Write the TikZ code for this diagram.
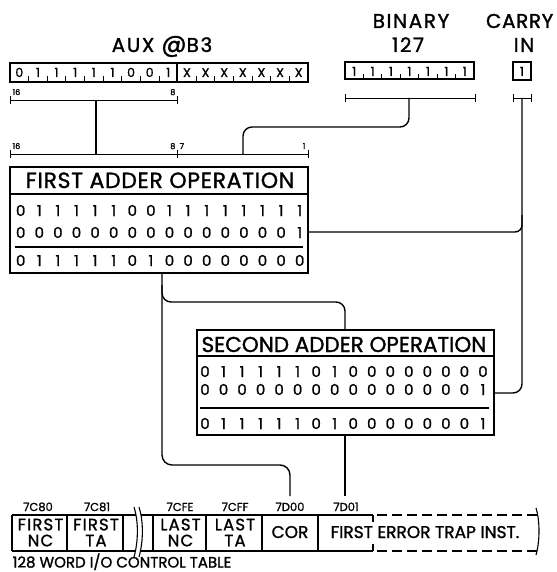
\documentclass[tikz,border=0pt]{standalone}
\usepackage{fontspec}
\setmainfont{Poppins}
\newfontfamily\lf{Poppins}[FakeBold=1.3]
\newcommand{\fs}[1]{\fontsize{#1}{#1}\selectfont\lf}
\begin{document}
\begin{tikzpicture}[x=1pt,y=-1pt,line width=1.3pt,
  boxs/.style={draw, inner sep=0pt, outer sep=0pt, anchor=north west},
  big/.style={inner sep=0pt, anchor=base, font=\fs{20}\addfontfeature{LetterSpace=8}},
  ttl/.style={inner sep=0pt, anchor=base},
  dig/.style={inner sep=0pt, anchor=base, font=\fs{15}},
  rdig/.style={inner sep=0pt, anchor=base, font=\fs{12.5}},
  num/.style={inner sep=0pt, anchor=base, font=\fs{8}},
  addr/.style={inner sep=0pt, anchor=base, font=\fs{11.5}},
  cell/.style={inner sep=0pt, align=center, font=\fontsize{16.5}{16}\selectfont\lf\addfontfeature{LetterSpace=7}},
  tick/.style={line width=0.9pt},
  conn/.style={line width=1.4pt, rounded corners=9pt}]
\useasboundingbox (0,0) rectangle (556,572);

% ---------- headings ----------
\node[big] (auxl) at (162,52) {AUX {\fontsize{25}{25}\selectfont @}B3};
\node[big] (binl1) at (411,28) {BINARY};
\node[big] (binl2) at (408,52) {127};
\node[inner sep=0pt, anchor=base east, font=\fs{20}\addfontfeature{LetterSpace=3}] (cinl1) at (554,28) {CARRY};
\node[big] (cinl2) at (524,52) {IN};

% ---------- registers ----------
\node[boxs, minimum width=298pt, minimum height=19pt] (aux) at (10,63) {};
\draw (177,63) -- (177,82);
\foreach \d [count=\i from 0] in {0,1,1,1,1,1,0,0,1,X,X,X,X,X,X,X}{
  \node[rdig] (a\i) at ({10+(\i+0.5)*18.625},77) {\d};
}
\foreach \i in {1,...,8,10,11,...,15}{
  \draw[tick] ({10+\i*18.625},82) -- ({10+\i*18.625},76.5);
}
\node[boxs, minimum width=129pt, minimum height=17pt] (bin) at (345,62) {};
\foreach \i in {0,...,6}{
  \node[rdig] (b\i) at ({345+(\i+0.5)*18.43},76) {1};
}
\foreach \i in {1,...,6}{
  \draw[tick] ({345+\i*18.43},79) -- ({345+\i*18.43},74);
}
\node[boxs, minimum width=18pt, minimum height=18pt] (cin) at (513,62) {};
\node[rdig] (c0) at (522,76) {1};

% ---------- brackets ----------
\draw[tick] (10,100) -- (177,100);
\draw[tick] (10,96) -- (10,104) (177,96) -- (177,104);
\node[num, anchor=base west] (n16a) at (12,95) {16};
\node[num, anchor=base east] (n8a) at (176,95) {8};
\draw[tick] (345,98) -- (475,98) (345,94) -- (345,102) (475,94) -- (475,102);
\draw[tick] (513,98) -- (531,98) (513,94) -- (513,102) (531,94) -- (531,102);
\draw[tick] (10,154) -- (308,154);
\draw[tick] (10,150) -- (10,158) (177,150) -- (177,158) (308,150) -- (308,158);
\node[num, anchor=base west] (n16b) at (12,149) {16};
\node[num, anchor=base east] (n8b) at (176,149) {8};
\node[num, anchor=base west] (n7b) at (179,149) {7};
\node[num, anchor=base east] (n1b) at (306,149) {1};

\coordinate (auxbr) at (96,100);
\coordinate (fabr1) at (96,154);
\coordinate (binbr) at (409,98);
\coordinate (fabr2) at (243,154);
\coordinate (cinbr) at (522,98);

% ---------- first adder ----------
\node[boxs, minimum width=298pt, minimum height=106pt] (fa) at (10,167) {};
\draw (10,194) -- (308,194);
\node[ttl, font=\fs{22}\addfontfeature{LetterSpace=3}] (fat) at (160,188) {FIRST ADDER OPERATION};
\foreach \d [count=\i from 0] in {0,1,1,1,1,1,0,0,1,1,1,1,1,1,1,1}{
  \node[dig] (fr1\i) at ({20.7+\i*18.6},216) {\d};}
\foreach \d [count=\i from 0] in {0,0,0,0,0,0,0,0,0,0,0,0,0,0,0,1}{
  \node[dig] (fr2\i) at ({20.7+\i*18.6},238) {\d};}
\draw (15,247) -- (303,247);
\foreach \d [count=\i from 0] in {0,1,1,1,1,1,0,1,0,0,0,0,0,0,0,0}{
  \node[dig] (fr3\i) at ({20.7+\i*18.6},266) {\d};}

% ---------- second adder ----------
\node[boxs, minimum width=297pt, minimum height=105pt] (sa) at (197,330) {};
\draw (197,356) -- (494,356);
\node[ttl, font=\fs{21.5}] (sat) at (344,352) {SECOND ADDER OPERATION};
\foreach \d [count=\i from 0] in {0,1,1,1,1,1,0,1,0,0,0,0,0,0,0,0}{
  \node[dig] (sr1\i) at ({205+\i*18.53},377) {\d};}
\foreach \d [count=\i from 0] in {0,0,0,0,0,0,0,0,0,0,0,0,0,0,0,1}{
  \node[dig] (sr2\i) at ({205+\i*18.53},395) {\d};}
\draw (200,408) -- (489,408);
\foreach \d [count=\i from 0] in {0,1,1,1,1,1,0,1,0,0,0,0,0,0,0,1}{
  \node[dig] (sr3\i) at ({205+\i*18.53},429) {\d};}

\coordinate (farow2) at (308,232);
\coordinate (sarow2) at (494,393);
\coordinate (faout) at (162,273);
\coordinate (sain) at (345,330);
\coordinate (saout) at (345,435);
\coordinate (t7d00) at (290,496);
\coordinate (t7d01) at (345,496);

% ---------- connectors ----------
\draw[conn] (auxbr) -- (fabr1);
\draw[conn] (binbr) -- (409,127) -- (243,127) -- (fabr2);
\draw[conn] (cinbr) -- (522,393) -- (sarow2);
\draw[conn, rounded corners=7pt] (farow2) -- (522,232) -- (522,215);
\draw[conn, rounded corners=10pt] (faout) -- (162,465) -- (290,465) -- (t7d00);
\draw[conn] (162,285) -- (162,302) -- (345,302) -- (sain);
\draw[conn] (saout) -- (t7d01);

% ---------- table ----------
\node[addr] (l1) at (38,511) {7C80};
\node[addr] (l2) at (97,511) {7C81};
\node[addr] (l3) at (180,511) {7CFE};
\node[addr] (l4) at (235,511) {7CFF};
\node[addr] (l5) at (290,511) {7D00};
\node[addr] (l6) at (346,511) {7D01};
\draw (12,515) -- (135.5,515) (140.5,515) -- (373,515);
\draw (12,551) -- (135.5,551) (140.5,551) -- (373,551);
\foreach \x in {12,67,123,153,206,262,318}{ \draw (\x,515) -- (\x,551); }
\draw[line width=1.1pt] (134,507) .. controls (138.5,521) and (138.5,541) .. (134,557);
\draw[line width=1.1pt] (139,507) .. controls (143.5,521) and (143.5,541) .. (139,557);
\draw (373,515) -- (373,522) (373,544) -- (373,551);
\draw[dash pattern=on 10pt off 5pt] (377,515) -- (537,515) (377,551) -- (537,551);
\draw[line width=1.1pt] (536,508) .. controls (540,521) and (540,541) .. (536,555);
\node[cell] (c1) at (40.5,532.5) {FIRST\\NC};
\node[cell] (c2) at (96,532.5) {FIRST\\TA};
\node[cell] (c3) at (180.5,532.5) {LAST\\NC};
\node[cell] (c4) at (235,532.5) {LAST\\TA};
\node[inner sep=0pt, anchor=base, font=\fs{17}] (c5) at (290,538) {COR};
\node[inner sep=0pt, anchor=base west, font=\fs{17}] (c6) at (330,538) {FIRST ERROR TRAP INST.};
\node[inner sep=0pt, anchor=base west, font=\fs{15}] (cap) at (12,567.5) {128 WORD I/O CONTROL TABLE};
\end{tikzpicture}
\end{document}
